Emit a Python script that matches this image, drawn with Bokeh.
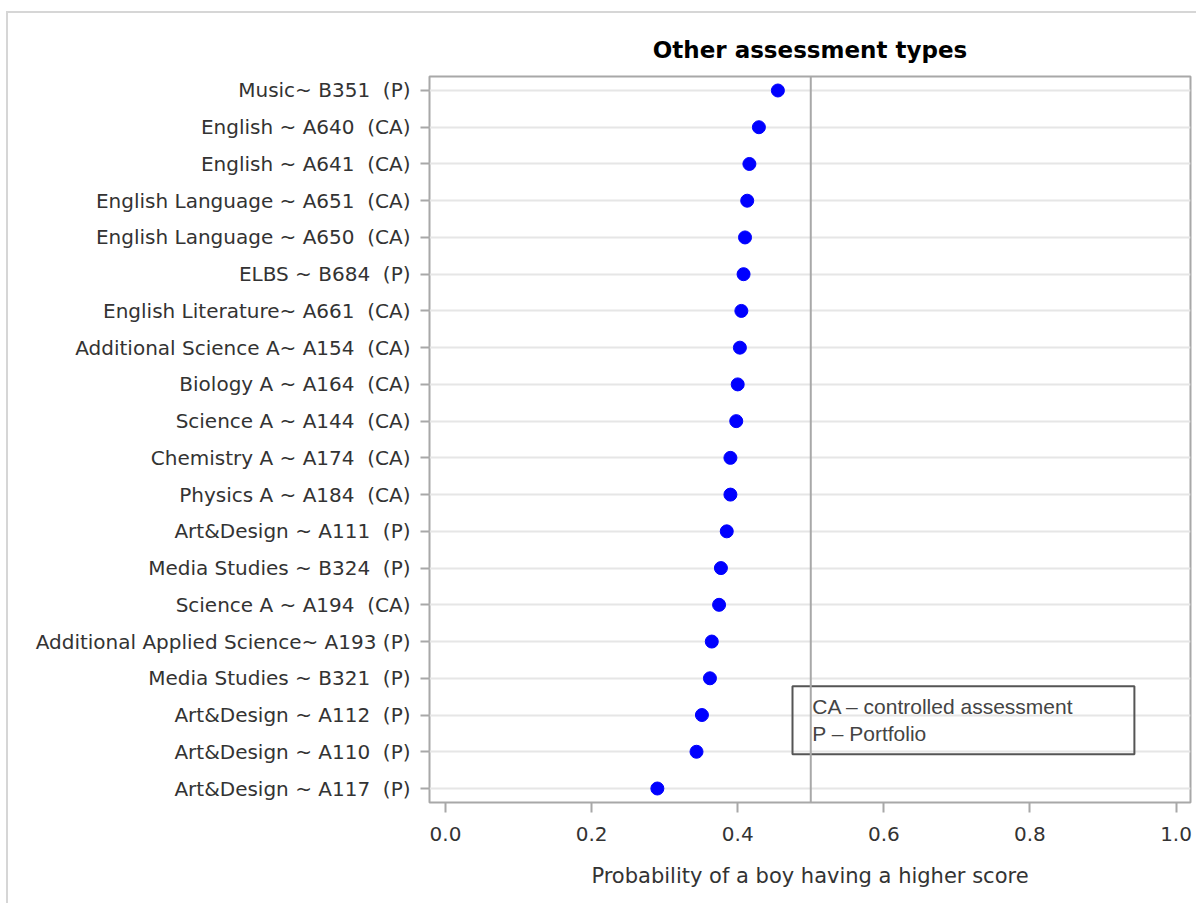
from bokeh.plotting import figure
from bokeh.models import Range1d, FixedTicker, Span, BoxAnnotation, Label
from bokeh.embed import file_html
from bokeh.resources import INLINE

NBSP = "\u00a0"

# Assessment components (top to bottom) and the probability of a boy scoring higher
components = [
    "Music~ B351  (P)",
    "English ~ A640  (CA)",
    "English ~ A641  (CA)",
    "English Language ~ A651  (CA)",
    "English Language ~ A650  (CA)",
    "ELBS ~ B684  (P)",
    "English Literature~ A661  (CA)",
    "Additional Science A~ A154  (CA)",
    "Biology A ~ A164  (CA)",
    "Science A ~ A144  (CA)",
    "Chemistry A ~ A174  (CA)",
    "Physics A ~ A184  (CA)",
    "Art&Design ~ A111  (P)",
    "Media Studies ~ B324  (P)",
    "Science A ~ A194  (CA)",
    "Additional Applied Science~ A193 (P)",
    "Media Studies ~ B321  (P)",
    "Art&Design ~ A112  (P)",
    "Art&Design ~ A110  (P)",
    "Art&Design ~ A117  (P)",
]
probability = [
    0.455, 0.429, 0.416, 0.413, 0.410, 0.408, 0.405, 0.403, 0.400, 0.398,
    0.390, 0.390, 0.385, 0.377, 0.3745, 0.3645, 0.362, 0.351, 0.3436, 0.290,
]
x_ticks = [0.0, 0.2, 0.4, 0.6, 0.8, 1.0]
legend_text = "CA \u2013 controlled assessment\nP \u2013 Portfolio"

rows = list(range(len(components)))

p = figure(
    width=1190, height=892,
    x_range=Range1d(-0.0219, 1.0198),
    y_range=Range1d(len(components) - 1 + 0.381, -0.381),
    output_backend="svg", toolbar_location=None,
    title="Other assessment types",
    min_border_left=421, min_border_top=63, min_border_right=8, min_border_bottom=103,
)
p.styles = {
    "margin-left": "6px", "margin-top": "11px",
    "border-left": "2px solid #d6d6d6", "border-top": "2px solid #d6d6d6",
}

p.title.align = "center"
p.title.text_font = "DejaVu Sans"
p.title.text_font_style = "bold"
p.title.text_font_size = "23px"
p.title.text_color = "#000000"
p.title.standoff = 27

p.outline_line_color = "#a8a8a8"
p.outline_line_width = 2
p.background_fill_color = "white"
p.border_fill_color = "white"

# x axis
xa = p.xaxis[0]
xa.ticker = FixedTicker(ticks=x_ticks)
xa.major_label_overrides = {t: f"{t:.1f}" for t in x_ticks}
xa.axis_line_color = None
xa.major_tick_in = 0
xa.major_tick_out = 10
xa.major_tick_line_color = "#a8a8a8"
xa.major_tick_line_width = 2
xa.minor_tick_line_color = None
xa.major_label_text_font = "DejaVu Sans"
xa.major_label_text_font_size = "20px"
xa.major_label_text_color = "#333333"
xa.major_label_standoff = 14
xa.axis_label = "Probability of a boy having a higher score"
xa.axis_label_text_font = "DejaVu Sans"
xa.axis_label_text_font_size = "21px"
xa.axis_label_text_font_style = "normal"
xa.axis_label_text_color = "#333333"
xa.axis_label_standoff = 20

# y axis: one tick per component (keep the double gaps visible in SVG text)
ya = p.yaxis[0]
ya.ticker = FixedTicker(ticks=rows)
ya.major_label_overrides = {i: name.replace("  ", " " + NBSP) for i, name in enumerate(components)}
ya.axis_line_color = None
ya.major_tick_in = 0
ya.major_tick_out = 9
ya.major_tick_line_color = "#a8a8a8"
ya.major_tick_line_width = 2
ya.minor_tick_line_color = None
ya.major_label_text_font = "DejaVu Sans"
ya.major_label_text_font_size = "20px"
ya.major_label_text_color = "#333333"
ya.major_label_standoff = 10

p.xgrid.grid_line_color = None
p.ygrid.grid_line_color = "#e6e6e6"
p.ygrid.grid_line_width = 2

# legend note box
p.add_layout(BoxAnnotation(left=0.475, right=0.943, top=16.22, bottom=18.07,
                           fill_alpha=0, line_color="#555555", line_alpha=1.0, line_width=2))
p.add_layout(Label(x=0.502, y=16.45, text=legend_text, text_baseline="top",
                   text_font="Liberation Sans", text_font_size="21px",
                   text_color="#444444", text_line_height=1.2))

# reference line at 0.5
p.add_layout(Span(location=0.5, dimension="height", line_color="#a8a8a8", line_width=2))

p.scatter(probability, rows, size=13, fill_color="#0000ff", line_color="#0000ff")

open("out.html", "w").write(file_html(p, INLINE))
